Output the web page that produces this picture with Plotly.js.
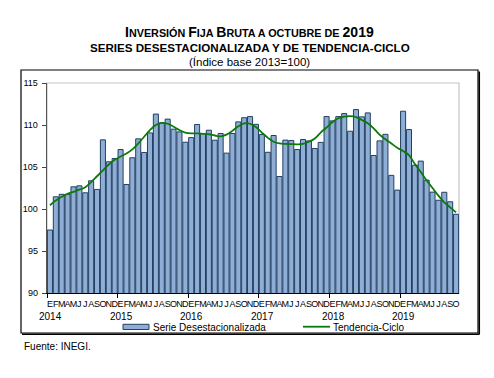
<!DOCTYPE html>
<html>
<head>
<meta charset="utf-8">
<script src="https://cdn.plot.ly/plotly-3.0.1.min.js"></script>
<style>html,body{margin:0;padding:0;background:#fff;}#chart{width:494px;height:378px;}</style>
</head>
<body>
<div id="chart"></div>
<script>
// Monthly labels (Spanish initials) and years
const monthLetters = ['E','F','M','A','M','J','J','A','S','O','N','D'];
const years = [2014, 2015, 2016, 2017, 2018, 2019];
const nMonths = 70; // Jan 2014 - Oct 2019

// Serie desestacionalizada (index base 2013=100)
const serieDesestacionalizada = [
  97.5, 101.45, 101.75, 101.75, 102.64, 102.76, 101.93, 103.36, 102.33, 108.23, 105.62, 106.01,
  107.08, 102.92, 106.1, 108.35, 106.73, 109.06, 111.3, 110.25, 110.7, 109.5, 109.18, 107.95,
  108.5, 110.06, 108.99, 109.38, 108.19, 108.99, 106.65, 108.99, 110.37, 110.87, 111.0, 110.08,
  108.87, 106.75, 108.75, 103.87, 108.2, 108.15, 107.08, 108.27, 108.11, 107.2, 107.93, 111.0,
  110.49, 111.0, 111.36, 109.26, 111.84, 110.97, 111.44, 106.37, 108.11, 108.89, 104.0, 102.25,
  111.64, 109.46, 105.22, 105.7, 103.44, 102.01, 101.04, 101.99, 100.86, 99.37
];

// Tendencia-Ciclo
const tendenciaCiclo = [
  100.45, 101.0, 101.45, 101.8, 102.05, 102.3, 102.6, 103.2, 103.9, 104.6, 105.3, 105.85,
  106.25, 106.6, 107.1, 107.8, 108.6, 109.4, 110.0, 110.25, 110.15, 109.8, 109.4, 109.1,
  109.0, 109.0, 108.95, 108.9, 108.75, 108.65, 108.85, 109.3, 109.85, 110.2, 110.15, 109.75,
  109.1, 108.5, 108.0, 107.8, 107.75, 107.72, 107.7, 107.75, 108.0, 108.4, 109.1, 109.7,
  110.35, 110.8, 111.0, 111.05, 110.95, 110.6, 110.2, 109.6, 108.85, 108.3, 107.8, 107.3,
  106.9, 106.4, 105.35, 104.4, 103.4, 102.5, 101.6, 100.8, 100.2, 99.6
];

const yTicks = [90, 95, 100, 105, 110, 115];

const xIdx = [];
const tickText = [];
for (let i = 0; i < nMonths; i++) { xIdx.push(i); tickText.push(monthLetters[i % 12]); }
const yearBounds = [];
for (let k = 0; k <= years.length; k++) yearBounds.push(12 * k - 0.5);

// plot area geometry helpers (pixels -> paper)
const L = 47, T = 83, W = 494 - 47 - 35, H = 378 - 83 - 85;
const px = x => (x - L) / W;
const py = y => (T + H - y) / H;

const FONT = 'Arial, "Liberation Sans", sans-serif';
const barFill = '#8FAED6';
const barLine = '#243F60';
const green = '#0A7A0A';

const traces = [
  {
    type: 'bar', x: xIdx, y: serieDesestacionalizada, name: 'Serie Desestacionalizada',
    marker: {color: barFill, line: {color: barLine, width: 1}},
    hoverinfo: 'skip', showlegend: false
  },
  {
    type: 'scatter', mode: 'lines', x: xIdx, y: tendenciaCiclo, name: 'Tendencia-Ciclo',
    line: {color: green, width: 1.8, shape: 'spline', smoothing: 1},
    hoverinfo: 'skip', showlegend: false
  }
];

const annotations = [];
// Titles
annotations.push({
  xref: 'paper', yref: 'paper', x: px(249.5), y: py(31.5), xanchor: 'center', yanchor: 'middle', showarrow: false,
  text: "<b><span style='font-size:14px'>I</span>NVERSIÓN <span style='font-size:14px'>F</span>IJA <span style='font-size:14px'>B</span>RUTA A OCTUBRE DE <span style='font-size:14px'>2019</span></b>",
  font: {family: FONT, size: 10.8, color: '#000'}
});
annotations.push({
  xref: 'paper', yref: 'paper', x: px(249.5), y: py(47.5), xanchor: 'center', yanchor: 'middle', showarrow: false,
  text: "<b>SERIES DESESTACIONALIZADA Y DE TENDENCIA-CICLO</b>",
  font: {family: FONT, size: 11.6, color: '#000'}
});
annotations.push({
  xref: 'paper', yref: 'paper', x: px(249.5), y: py(62.5), xanchor: 'center', yanchor: 'middle', showarrow: false,
  text: "(Índice base 2013=100)",
  font: {family: FONT, size: 11.5, color: '#000'}
});
// Year labels
years.forEach((yr, k) => {
  annotations.push({
    xref: 'x', yref: 'paper', x: 12 * k + 0.1, y: py(316), xanchor: 'center', yanchor: 'middle', showarrow: false,
    text: String(yr), font: {family: FONT, size: 10, color: '#000'}
  });
});
// Legend texts
annotations.push({
  xref: 'paper', yref: 'paper', x: px(151), y: py(327), xanchor: 'left', yanchor: 'middle', showarrow: false,
  text: 'Serie Desestacionalizada', font: {family: FONT, size: 10, color: '#000'}
});
annotations.push({
  xref: 'paper', yref: 'paper', x: px(330.5), y: py(327), xanchor: 'left', yanchor: 'middle', showarrow: false,
  text: 'Tendencia-Ciclo', font: {family: FONT, size: 10, color: '#000'}
});
// Source
annotations.push({
  xref: 'paper', yref: 'paper', x: px(22), y: py(346.5), xanchor: 'left', yanchor: 'middle', showarrow: false,
  text: 'Fuente: INEGI.', font: {family: FONT, size: 10, color: '#000'}
});

const shapes = [
  // outer frame
  {type: 'rect', xref: 'paper', yref: 'paper', x0: px(21), x1: px(478), y0: py(333), y1: py(70),
   line: {color: '#000', width: 1.2}, fillcolor: 'rgba(0,0,0,0)', layer: 'above'},
  // frame shadow (bottom & right)
  {type: 'line', xref: 'paper', yref: 'paper', x0: px(22), x1: px(479.5), y0: py(334.3), y1: py(334.3),
   line: {color: '#000', width: 1.5}},
  {type: 'line', xref: 'paper', yref: 'paper', x0: px(479.3), x1: px(479.3), y0: py(71.5), y1: py(334.3),
   line: {color: '#000', width: 1.5}},
  // light plot-area border
  {type: 'rect', xref: 'paper', yref: 'paper', x0: 0, x1: 1, y0: 0, y1: 1,
   line: {color: '#C4C4C4', width: 1.2}, fillcolor: 'rgba(0,0,0,0)', layer: 'below'},
  // legend patch
  {type: 'rect', xref: 'paper', yref: 'paper', x0: px(123), x1: px(149), y0: py(329.5), y1: py(324.3),
   line: {color: barLine, width: 1}, fillcolor: barFill},
  // legend line
  {type: 'line', xref: 'paper', yref: 'paper', x0: px(303), x1: px(330), y0: py(326.7), y1: py(326.7),
   line: {color: green, width: 1.8}}
];

const layout = {
  width: 494, height: 378,
  margin: {l: L, r: 35, t: T, b: 85, pad: 0},
  paper_bgcolor: '#fff', plot_bgcolor: '#fff',
  font: {family: FONT, size: 9, color: '#000'},
  showlegend: false,
  bargap: 0.14,
  xaxis: {
    range: [-0.5, nMonths - 0.5], tickmode: 'array', tickvals: xIdx, ticktext: tickText,
    tickangle: 0, ticks: '', tickfont: {family: FONT, size: 9, color: '#000'},
    showline: true, linecolor: '#000', linewidth: 1.3, showgrid: false, zeroline: false,
    ticklabelstandoff: 2,
    minor: {tickmode: 'array', tickvals: yearBounds, ticks: 'outside', ticklen: 4, tickcolor: '#000', tickwidth: 1, showgrid: false},
    fixedrange: true
  },
  yaxis: {
    range: [90, 115], tickmode: 'array', tickvals: yTicks, ticktext: yTicks.map(String),
    ticks: 'outside', ticklen: 4, tickcolor: '#444', tickwidth: 1,
    tickfont: {family: FONT, size: 9, color: '#000'},
    showline: true, linecolor: '#555', linewidth: 1.3, showgrid: false, zeroline: false,
    ticklabelstandoff: 2, fixedrange: true
  },
  annotations: annotations,
  shapes: shapes
};

Plotly.newPlot('chart', traces, layout, {staticPlot: true, displayModeBar: false});
</script>
</body>
</html>
